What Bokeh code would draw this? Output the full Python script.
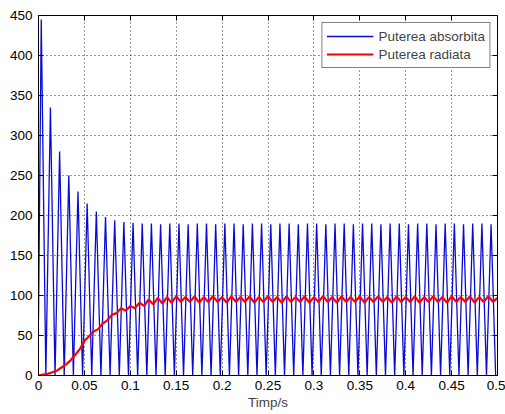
from bokeh.plotting import figure
from bokeh.models import FixedTicker, LinearAxis, Range1d, Legend, LegendItem
from bokeh.embed import file_html
from bokeh.resources import INLINE

# ---- data ----
# blue: "Puterea absorbita" -- start value, then alternating peaks / troughs
abs_start_t = [0.0]
abs_start_v = [70]
peak_t = [0.003, 0.013, 0.023, 0.033, 0.043, 0.053, 0.063, 0.073, 0.083, 0.093,
          0.103, 0.113, 0.123, 0.133, 0.143, 0.153, 0.163, 0.173, 0.183, 0.193,
          0.203, 0.213, 0.223, 0.233, 0.243, 0.253, 0.263, 0.273, 0.283, 0.293,
          0.303, 0.313, 0.323, 0.333, 0.343, 0.353, 0.363, 0.373, 0.383, 0.393,
          0.403, 0.413, 0.423, 0.433, 0.443, 0.453, 0.463, 0.473, 0.483, 0.493]
peak_v = [445, 335, 280, 250, 230, 215, 205, 198, 194, 192,
          191, 190, 190, 189, 190, 190, 189, 190, 190, 189,
          190, 190, 189, 190, 190, 189, 190, 190, 189, 190,
          190, 189, 190, 190, 189, 190, 190, 189, 190, 190,
          189, 190, 190, 189, 190, 190, 189, 190, 190, 189]
trough_t = [0.008, 0.018, 0.028, 0.038, 0.048, 0.058, 0.068, 0.078, 0.088, 0.098,
            0.108, 0.118, 0.128, 0.138, 0.148, 0.158, 0.168, 0.178, 0.188, 0.198,
            0.208, 0.218, 0.228, 0.238, 0.248, 0.258, 0.268, 0.278, 0.288, 0.298,
            0.308, 0.318, 0.328, 0.338, 0.348, 0.358, 0.368, 0.378, 0.388, 0.398,
            0.408, 0.418, 0.428, 0.438, 0.448, 0.458, 0.468, 0.478, 0.488, 0.498]
trough_v = [0] * 50

# red: "Puterea radiata"
rad_t = [0.000, 0.005, 0.010, 0.015, 0.020, 0.025, 0.030, 0.035, 0.040, 0.045,
         0.050, 0.055, 0.060, 0.065, 0.070, 0.075, 0.080, 0.085, 0.090, 0.095,
         0.100, 0.105, 0.110, 0.115, 0.120, 0.125, 0.130, 0.135, 0.140, 0.145,
         0.150, 0.155, 0.160, 0.165, 0.170, 0.175, 0.180, 0.185, 0.190, 0.195,
         0.200, 0.205, 0.210, 0.215, 0.220, 0.225, 0.230, 0.235, 0.240, 0.245,
         0.250, 0.255, 0.260, 0.265, 0.270, 0.275, 0.280, 0.285, 0.290, 0.295,
         0.300, 0.305, 0.310, 0.315, 0.320, 0.325, 0.330, 0.335, 0.340, 0.345,
         0.350, 0.355, 0.360, 0.365, 0.370, 0.375, 0.380, 0.385, 0.390, 0.395,
         0.400, 0.405, 0.410, 0.415, 0.420, 0.425, 0.430, 0.435, 0.440, 0.445,
         0.450, 0.455, 0.460, 0.465, 0.470, 0.475, 0.480, 0.485, 0.490, 0.495,
         0.500]
rad_v = [0, 1, 2, 4, 6, 10, 14, 19, 26, 33,
         43, 49, 55, 58, 65, 69, 76, 78, 84, 81,
         87, 84, 91, 87, 95, 89, 97, 90, 98, 91,
         99, 92, 98, 92, 99, 91, 98, 92, 99, 92,
         98, 91, 99, 92, 98, 92, 99, 91, 98, 92,
         99, 92, 98, 91, 99, 92, 98, 92, 99, 91,
         98, 92, 99, 92, 98, 91, 99, 92, 98, 92,
         99, 91, 98, 92, 99, 92, 98, 91, 99, 92,
         98, 92, 99, 91, 98, 92, 99, 92, 98, 91,
         99, 92, 98, 92, 99, 91, 98, 92, 99, 92,
         97]

x_ticks = [0, 0.05, 0.1, 0.15, 0.2, 0.25, 0.3, 0.35, 0.4, 0.45, 0.5]
x_labels = ["0", "0.05", "0.1", "0.15", "0.2", "0.25", "0.3", "0.35", "0.4", "0.45", "0.5"]
y_ticks = [0, 50, 100, 150, 200, 250, 300, 350, 400, 450]
x_title = "Timp/s"
series_names = ["Puterea absorbita", "Puterea radiata"]

# interleave peaks and troughs for the blue trace
abs_t = list(abs_start_t)
abs_v = list(abs_start_v)
for pt, pv, tt, tv in zip(peak_t, peak_v, trough_t, trough_v):
    abs_t += [pt, tt]
    abs_v += [pv, tv]

FONT = "Liberation Sans"
FS = "13.5px"

p = figure(width=505, height=414, output_backend="svg", toolbar_location=None,
           x_range=Range1d(0, 0.5), y_range=Range1d(0, 450),
           min_border_left=38, min_border_right=8, min_border_top=15, min_border_bottom=39)
p.background_fill_color = "white"
p.border_fill_color = "white"
p.outline_line_color = "black"
p.outline_line_width = 1

r1 = p.line(abs_t, abs_v, line_color="#0a0ad8", line_width=1.3)
r2 = p.line(rad_t, rad_v, line_color="#ff0000", line_width=2.2)

for ax in [p.xaxis[0], p.yaxis[0]]:
    ax.major_tick_in = 5
    ax.major_tick_out = 0
    ax.minor_tick_line_color = None
    ax.axis_line_color = "black"
    ax.major_tick_line_color = "black"
    ax.major_label_text_font = FONT
    ax.major_label_text_font_size = FS
    ax.major_label_text_color = "black"
    ax.major_label_standoff = 5

p.xaxis[0].ticker = FixedTicker(ticks=x_ticks)
p.xaxis[0].major_label_overrides = {t: l for t, l in zip(x_ticks, x_labels)}
p.yaxis[0].ticker = FixedTicker(ticks=y_ticks)
p.yaxis[0].major_label_standoff = 6
p.xaxis[0].axis_label = x_title
p.xaxis[0].axis_label_text_font = FONT
p.xaxis[0].axis_label_text_font_size = FS
p.xaxis[0].axis_label_text_font_style = "normal"
p.xaxis[0].axis_label_standoff = 2

# box ticks on top / right (no labels)
top = LinearAxis(ticker=FixedTicker(ticks=x_ticks), major_label_text_color=None,
                 major_tick_in=5, major_tick_out=0, minor_tick_line_color=None,
                 major_label_standoff=0)
right = LinearAxis(ticker=FixedTicker(ticks=y_ticks), major_label_text_color=None,
                   major_tick_in=5, major_tick_out=0, minor_tick_line_color=None,
                   major_label_standoff=0)
p.add_layout(top, "above")
p.add_layout(right, "right")

p.xgrid.ticker = FixedTicker(ticks=x_ticks)
p.ygrid.ticker = FixedTicker(ticks=y_ticks)
for g in [p.xgrid[0], p.ygrid[0]]:
    g.grid_line_color = "black"
    g.grid_line_dash = "1 3"
    g.grid_line_alpha = 0.8

legend = Legend(items=[LegendItem(label=series_names[0], renderers=[r1]),
                       LegendItem(label=series_names[1], renderers=[r2])],
                location="top_right")
legend.margin = 7
legend.padding = 4
legend.spacing = 0
legend.glyph_width = 47
legend.glyph_height = 18
legend.label_height = 18
legend.label_standoff = 5
legend.label_text_font = FONT
legend.label_text_font_size = FS
legend.border_line_color = "black"
legend.border_line_width = 1
legend.background_fill_color = "white"
legend.background_fill_alpha = 1
p.add_layout(legend)

open("out.html", "w").write(file_html(p, INLINE))
